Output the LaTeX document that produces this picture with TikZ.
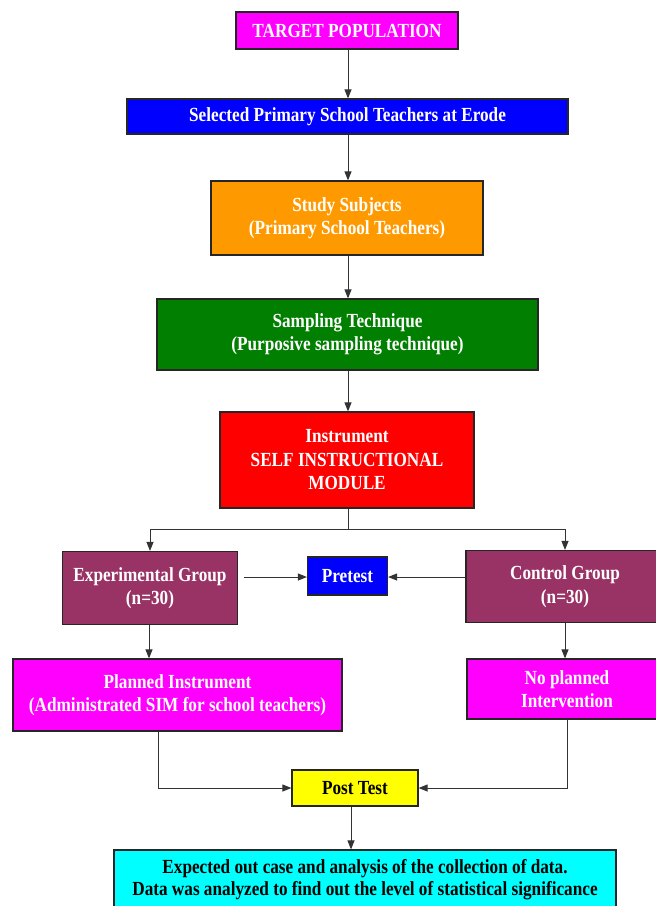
\documentclass[tikz,border=0pt]{standalone}
\usepackage{fontspec}
\setmainfont[FakeStretch=0.86]{Liberation Serif}
\usetikzlibrary{arrows.meta}
\definecolor{cmag}{HTML}{FF00FF}
\definecolor{cblue}{HTML}{0000FF}
\definecolor{corange}{HTML}{FF9900}
\definecolor{cgreen}{HTML}{007F00}
\definecolor{cred}{HTML}{FF0000}
\definecolor{cmaroon}{HTML}{993366}
\definecolor{ccyan}{HTML}{00FFFF}
\definecolor{cyellow}{HTML}{FFFF00}
\begin{document}
\begin{tikzpicture}[x=1pt,y=-1pt,
  box/.style={draw=black!85, line width=1.2pt, inner sep=0pt, align=center,
    font=\fontsize{20}{23.5}\selectfont\bfseries, text=white},
  arr/.style={draw=black!80, line width=1pt, -{Triangle[length=9pt,width=7pt]}},
  ln/.style={draw=black!80, line width=1pt}]
\useasboundingbox (0,0) rectangle (656,906);

\node[box, fill=cmag, minimum width=222pt, minimum height=37pt] (target) at (347,30.5) {TARGET POPULATION};
\node[box, fill=cblue, minimum width=441pt, minimum height=35pt] (selected) at (347.5,116.5) {Selected Primary School Teachers at Erode};
\node[box, fill=corange, minimum width=272pt, minimum height=74pt] (study) at (347,218) {Study Subjects\\(Primary School Teachers)};
\node[box, fill=cgreen, minimum width=381pt, minimum height=71pt] (sampling) at (347.5,334.5) {Sampling Technique\\(Purposive sampling technique)};
\node[box, fill=cred, minimum width=254pt, minimum height=96pt] (instr) at (347,460) {Instrument\\SELF INSTRUCTIONAL\\MODULE};
\node[box, fill=cmaroon, minimum width=175pt, minimum height=73pt] (exp) at (150,588) {Experimental Group\\(n=30)};
\node[box, fill=cblue, minimum width=80pt, minimum height=38pt] (pretest) at (347.5,576) {Pretest};
\node[box, fill=cmaroon, minimum width=198pt, minimum height=72pt] (ctrl) at (565,586.5) {Control Group\\(n=30)};
\node[box, fill=cmag, minimum width=329pt, minimum height=72pt] (planned) at (177.5,695) {Planned Instrument\\(Administrated SIM for school teachers)};
\node[box, fill=cmag, minimum width=200pt, minimum height=60pt] (noplan) at (567,689) {No planned\\Intervention};
\node[box, fill=cyellow, text=black, minimum width=126pt, minimum height=36pt] (post) at (355,788) {Post Test};
\node[box, fill=ccyan, text=black, minimum width=502pt, minimum height=60pt, font=\fontsize{20}{22}\selectfont\bfseries] (expected) at (365,880) {Expected out case and analysis of the collection of data.\\Data was analyzed to find out the level of statistical significance};

\draw[arr] (target.south -| 348,0) -- (selected.north -| 348,0);
\draw[arr] (selected.south -| 348,0) -- (study.north -| 348,0);
\draw[arr] (study.south -| 348,0) -- (sampling.north -| 348,0);
\draw[arr] (sampling.south -| 348,0) -- (instr.north -| 348,0);

\coordinate (br) at (348,529);
\draw[ln] (instr.south -| br) -- (br);
\draw[arr] (br) -| (exp.north);
\draw[arr] (br) -| (ctrl.north);

\coordinate (ep) at (244,577);
\draw[arr] (ep) -- (pretest.west |- ep);
\draw[arr] (ctrl.west |- ep) -- (pretest.east |- ep);

\draw[arr] (exp.south -| 149,0) -- (planned.north -| 149,0);
\draw[arr] (ctrl.south) -- (noplan.north -| ctrl.south);

\coordinate (pl) at (158,788);
\draw[arr] (planned.south -| pl) -- (pl) -- (post.west);
\coordinate (np) at (567,788);
\draw[arr] (noplan.south -| np) -- (np) -- (post.east);

\draw[arr] (post.south -| 351,0) -- (expected.north -| 351,0);
\end{tikzpicture}
\end{document}
